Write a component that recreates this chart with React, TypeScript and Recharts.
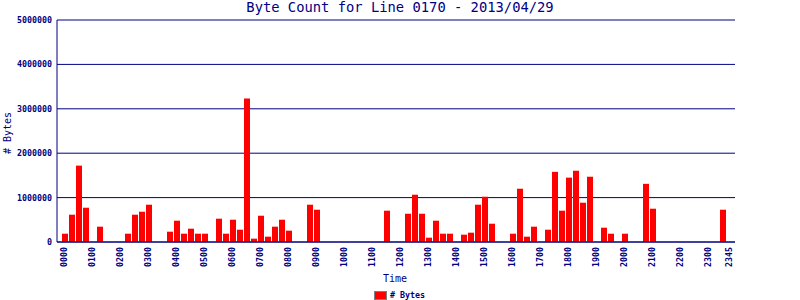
import { BarChart, Bar, XAxis, YAxis, CartesianGrid } from 'recharts'

const HOURS = ['00', '01', '02', '03', '04', '05', '06', '07', '08', '09', '10', '11',
  '12', '13', '14', '15', '16', '17', '18', '19', '20', '21', '22', '23']
const QUARTERS = ['00', '15', '30', '45']

// one value per 15 minute slot, 0000 .. 2345
const BYTES = [
  187000, 615000, 1720000, 772000, 0, 345000, 0, 0,
  0, 187000, 615000, 682000, 840000, 0, 0, 232000,
  480000, 187000, 300000, 187000, 187000, 0, 525000, 187000,
  502000, 277000, 3230000, 75000, 592000, 120000, 345000, 502000,
  255000, 0, 0, 840000, 727000, 0, 0, 0,
  0, 0, 0, 0, 0, 0, 705000, 0,
  0, 637000, 1065000, 637000, 97000, 480000, 187000, 187000,
  0, 165000, 210000, 840000, 1020000, 412000, 0, 0,
  187000, 1200000, 120000, 345000, 0, 277000, 1580000, 705000,
  1450000, 1605000, 885000, 1470000, 0, 322000, 187000, 0,
  187000, 0, 0, 1310000, 750000, 0, 0, 0,
  0, 0, 0, 0, 0, 0, 727000, 0,
]

const Y_TICKS = [0, 1000000, 2000000, 3000000, 4000000, 5000000]
const X_LABELS = [
  '0000', '0100', '0200', '0300', '0400', '0500', '0600', '0700', '0800', '0900', '1000', '1100',
  '1200', '1300', '1400', '1500', '1600', '1700', '1800', '1900', '2000', '2100', '2200', '2300', '2345',
]

const TITLE = 'Byte Count for Line 0170 - 2013/04/29'
const SERIES_NAME = '# Bytes'

const NAVY = '#000080'
const MONO = '"DejaVu Sans Mono", monospace'

const times = HOURS.flatMap(h => QUARTERS.map(q => h + q))
const data = times.map((time, i) => ({ time, bytes: BYTES[i] }))

function XTick({ x, y, payload }: any) {
  if (!X_LABELS.includes(payload.value)) return null
  const tx = x + 2
  return (
    <text x={tx} y={y} transform={`rotate(-90, ${tx}, ${y})`} textAnchor="end"
      fontFamily={MONO} fontSize={8.3} fontWeight="bold" fill={NAVY}>
      {payload.value}
    </text>
  )
}

function YTick({ x, y, payload }: any) {
  return (
    <text x={x} y={y + 3} textAnchor="end" fontFamily={MONO} fontSize={8.3} fontWeight="bold" fill={NAVY}>
      {payload.value}
    </text>
  )
}

export default function App() {
  return (
    <div style={{ position: 'absolute', left: 0, top: 0, width: 800, height: 300, background: '#fff' }}>
      <BarChart width={800} height={300} data={data} margin={{ top: 20, right: 65, left: 0, bottom: 18 }}>
        <CartesianGrid yAxisId="left" vertical={false} stroke={NAVY} strokeWidth={1} />
        <XAxis
          dataKey="time"
          interval={0}
          tick={<XTick />}
          tickLine={false}
          tickSize={0}
          tickMargin={5}
          height={40}
          padding={{ left: 4, right: 2 }}
          axisLine={{ stroke: NAVY, strokeWidth: 1 }}
        />
        <YAxis
          yAxisId="left"
          width={57}
          domain={[0, 5000000]}
          ticks={Y_TICKS}
          tick={<YTick />}
          tickLine={false}
          tickSize={0}
          tickMargin={5}
          axisLine={{ stroke: NAVY, strokeWidth: 1 }}
        />
        <YAxis
          yAxisId="right"
          orientation="right"
          width={0}
          domain={[0, 5000000]}
          tick={false}
          tickLine={false}
          axisLine={{ stroke: NAVY, strokeWidth: 1 }}
        />
        <Bar yAxisId="left" dataKey="bytes" name={SERIES_NAME} fill="#ff0000" barSize={6} isAnimationActive={false} />
      </BarChart>
      <svg width={800} height={300} style={{ position: 'absolute', left: 0, top: 0, pointerEvents: 'none' }}>
        <text x={400} y={12} textAnchor="middle" fontFamily={MONO} fontSize={13.8} fill={NAVY}>{TITLE}</text>
        <text x={10.5} y={133} transform="rotate(-90, 10.5, 133)" textAnchor="middle" fontFamily={MONO} fontSize={10} fill={NAVY}>
          {SERIES_NAME}
        </text>
        <text x={395} y={281.5} textAnchor="middle" fontFamily={MONO} fontSize={10} fill={NAVY}>Time</text>
        {/* legend */}
        <rect x={374.5} y={291.5} width={12} height={8} fill="#ff0000" stroke="#808080" strokeWidth={1} />
        <text x={390} y={298} fontFamily={MONO} fontSize={8.3} fontWeight="bold" fill={NAVY}>{SERIES_NAME}</text>
      </svg>
    </div>
  )
}
